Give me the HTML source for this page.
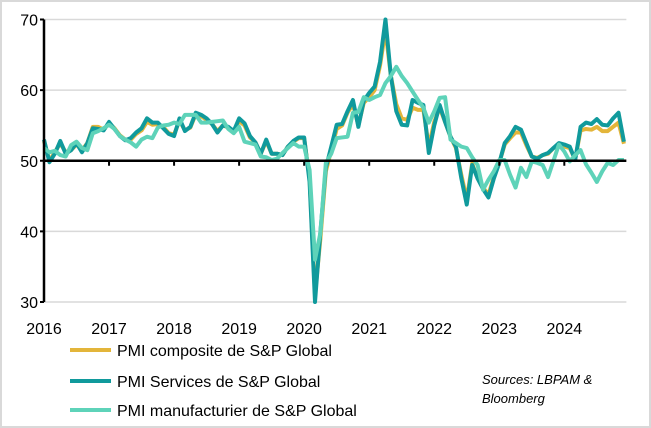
<!DOCTYPE html>
<html><head><meta charset="utf-8"><style>
html,body{margin:0;padding:0;background:#fff}
svg{display:block;font-family:"Liberation Sans",sans-serif}
</style></head><body>
<svg id="chart" width="651" height="428" viewBox="0 0 651 428" xmlns="http://www.w3.org/2000/svg">
<rect x="1" y="1" width="649" height="426" fill="#fff" stroke="#d9d9d9" stroke-width="2"/>
<g id="grid"></g>
<g id="series"></g>
<g id="axes"></g>
<g>
<line x1="70" y1="350" x2="111" y2="350" stroke="#e3b53a" stroke-width="4"/>
<text x="117" y="356" font-size="16" fill="#000">PMI composite de S&amp;P Global</text>
<line x1="70" y1="381" x2="111" y2="381" stroke="#109a9c" stroke-width="4"/>
<text x="117" y="387" font-size="16" fill="#000">PMI Services de S&amp;P Global</text>
<line x1="70" y1="410" x2="111" y2="410" stroke="#5ed3b9" stroke-width="4"/>
<text x="117" y="416" font-size="16" fill="#000">PMI manufacturier de S&amp;P Global</text>
</g>
<text font-size="13" font-style="italic" fill="#000"><tspan x="482" y="384">Sources: LBPAM &amp;</tspan><tspan x="482" y="403">Bloomberg</tspan></text>
</svg>
<script>
const yTicks=[30,40,50,60,70];
const years=["2016","2017","2018","2019","2020","2021","2022","2023","2024"];
const services=[53,49.8,51,52.8,51,51.5,52.5,51.2,52.5,54.6,54.5,54.3,
55.5,54.5,53.5,52.9,53.2,54,54.6,56,55.4,55.4,54.6,53.8,
53.5,56,54.2,54.8,56.8,56.5,56,55.2,54,55,54.8,54.2,
56,55.3,53.5,52.6,51,53,51,51,50.8,52,52.8,53.3,
53.3,47,30,40,49,52,55.1,55.2,57,58.6,54.8,58.5,
59.6,60.5,64,70,62,57,55.1,55,58.6,58.2,57.9,51.1,
55,57.9,55.5,53.4,52,47.5,43.8,49.4,47.5,46,44.8,47.5,
49.7,52.5,53.5,54.8,54.4,52.5,50.6,50.3,50.8,51.1,51.8,52.5,
52.3,52,50.1,54.8,55.4,55.2,55.9,55.1,55,56,56.8,52.7];
const composite=[52.8,50,51.2,52.5,51.2,51.5,52.3,51.5,52.5,54.8,54.8,54.4,
55.3,54.6,53.6,53,53,53.8,54.3,55.5,55.1,55.2,54.8,53.9,
53.7,55.7,54.3,54.7,56.6,56.3,55.8,55.2,54.2,55,54.7,54.2,
55.6,55,53.3,52.6,51,52.8,51,51,50.8,52,52.7,53.2,
53.2,47.5,31,39,48.5,51.5,54.5,55,56.8,58,55,58.2,
59,60,63.5,68.5,62,58,56,55.8,57.5,57.2,57.2,52,
55.5,57.5,55.5,53.4,51.8,48,44.5,49.6,47.5,46.2,45.2,47.7,
49.7,52.3,53.2,54,54,52.2,50.6,50.4,50.8,51,51.8,52.3,
52,51.8,50.2,54.3,54.5,54.4,54.8,54.2,54.2,54.8,55.4,52.4];
const manufacturing=[51.8,51.2,51.4,50.8,50.6,52.2,52.7,51.8,51.5,53.9,54.2,54.6,
55.1,54.5,53.5,53,52.6,52,53,53.4,53.2,54.7,55,55.1,
55.4,55.2,56.5,56.5,56.5,55.4,55.4,55.5,55.6,55.7,54.5,53.9,
54.8,52.7,52.5,52.3,50.6,50.5,50.1,50.3,51.1,51.8,52.5,52,
52,48.7,36,39.8,49.7,51,53.2,53.3,53.4,56.8,56.9,59,
58.6,59,59.3,61,62,63.3,62,61,59.8,58.6,57.5,55.4,
57,58.9,59,53,52.5,52,51.8,50.5,49.4,45.9,47.3,48.5,
50.1,50.1,48,46.2,49,47.7,49.9,49.7,49.4,47.7,50,52.3,
51.3,49.9,50.8,51.5,49.5,48.3,47,48.5,49.7,49.4,50.1,50.1];
const NS="http://www.w3.org/2000/svg";
const x0=44,monthW=5.42,yTop=19.5,yBot=302,yMin=30,yMax=70;
function xScale(i){return x0+i*monthW;}
function yScale(v){return yBot-(v-yMin)/(yMax-yMin)*(yBot-yTop);}
function mk(tag,attrs,parent){const e=document.createElementNS(NS,tag);for(const k in attrs)e.setAttribute(k,attrs[k]);parent.appendChild(e);return e;}
const grid=document.getElementById('grid'),axes=document.getElementById('axes'),ser=document.getElementById('series');
const xEnd=xScale(108)-3;
yTicks.forEach(t=>{
 if(t!==50){const g=mk('line',{x1:x0,x2:xEnd,y1:yScale(t),y2:yScale(t),stroke:'#d9d9d9','stroke-width':1.5},grid);
 
 }
 const tk=mk('line',{x1:x0-4,x2:x0,y1:yScale(t),y2:yScale(t),stroke:'#000','stroke-width':2},axes);
 
 
 const tx=mk('text',{x:x0-6,y:yScale(t)+6,'text-anchor':'end','font-size':16,fill:'#000'},axes);
 tx.textContent=t;
 
 
});
function line(data,color,name){
 const p=mk('polyline',{points:data.map((v,i)=>xScale(i)+','+yScale(v)).join(' '),fill:'none',stroke:color,'stroke-width':4,'stroke-linejoin':'round'},ser);
 
 
}
line(composite,'#e3b53a','line-composite');
line(services,'#109a9c','line-services');
line(manufacturing,'#5ed3b9','line-manufacturing');
const ya=mk('line',{x1:x0,x2:x0,y1:yTop,y2:yBot,stroke:'#000','stroke-width':2.5},axes);


const xa=mk('line',{x1:x0,x2:xEnd,y1:yScale(50),y2:yScale(50),stroke:'#000','stroke-width':2.5},axes);


years.forEach((yr,k)=>{
 const xx=xScale(k*12);
 const tk=mk('line',{x1:xx,x2:xx,y1:yScale(50),y2:yScale(50)+5,stroke:'#000','stroke-width':2},axes);
 
 
 const tx=mk('text',{x:xx,y:334,'text-anchor':'middle','font-size':16,fill:'#000'},axes);
 tx.textContent=yr;
 
 
});
</script>
</body></html>
